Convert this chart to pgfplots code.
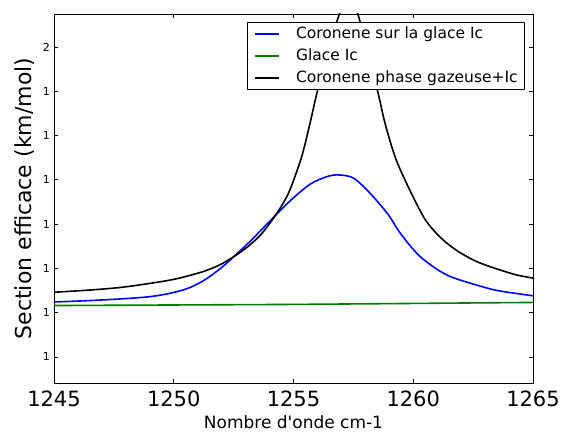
\documentclass[border=0pt]{standalone}
\usepackage{fontspec}
\setmainfont{DejaVu Sans}
\usepackage{pgfplots}
\pgfplotsset{compat=1.18}

\definecolor{mplgreen}{rgb}{0,0.5,0}

\begin{document}
\begin{tikzpicture}
\begin{axis}[
    name=ax,
    scale only axis,
    width=479pt, height=369pt,
    xmin=1245, xmax=1265,
    ymin=1.241, ymax=2.0745,
    xtick={1245,1250,...,1265},
    ytick={1.3,1.4,1.5,1.6,1.7,1.8,1.9,2.0},
    yticklabels={1,1,1,1,1,1,1,2},
    tick pos=both,
    tick align=inside,
    major tick length=4pt,
    tick style={black, line width=0.6pt},
    axis line style={line width=0.9pt},
    /pgf/number format/assume math mode=true,
    /pgf/number format/1000 sep={},
    xticklabel style={font=\fontsize{21}{24}\selectfont, inner sep=0pt, yshift=-8pt},
    yticklabel style={font=\fontsize{11}{13}\selectfont, inner sep=0pt, xshift=-4pt},
    xlabel={Nombre d\textquotesingle onde cm-1},
    ylabel={Section efficace (km/mol)},
    xlabel style={font=\fontsize{17}{20}\selectfont, at={(axis description cs:0.5,0)}, anchor=north, inner sep=0pt, yshift=-32pt},
    ylabel style={font=\fontsize{22}{25}\selectfont, at={(axis description cs:0,0.5)}, anchor=base, inner sep=0pt, yshift=23pt},
    legend style={at={(rel axis cs:1,1)}, anchor=north east, xshift=-8pt, yshift=-8.5pt,
        draw=black, line width=0.6pt, fill=white, font=\fontsize{15.5}{18}\selectfont,
        inner xsep=7pt, inner ysep=4pt, row sep=7pt, column sep=16pt,
        nodes={inner sep=0pt, text height=11.5pt, text depth=3.5pt}},
    legend cell align=left,
    legend image code/.code={\draw[#1, line width=1.6pt] (0pt,0pt) -- (24pt,0pt);},
    clip=true,
]
\addplot[blue, line width=1.6pt, smooth] coordinates {
    (1245,1.424) (1246.4,1.427) (1247.8,1.431) (1249.0,1.436) (1249.87,1.444)
    (1250.6,1.455) (1251.3,1.474) (1252.0,1.502) (1252.7,1.536) (1253.3,1.567)
    (1254.0,1.606) (1254.85,1.652) (1255.69,1.690) (1256.39,1.707) (1256.87,1.711)
    (1257.5,1.704) (1258.19,1.670) (1258.96,1.621) (1259.45,1.580) (1260.28,1.527)
    (1261.4,1.485) (1262.79,1.460) (1263.6,1.449) (1265,1.438)
};
\addlegendentry{Coronene sur la glace Ic}
\addplot[mplgreen, line width=1.6pt] coordinates {
    (1245,1.416) (1255,1.4185) (1265,1.423)
};
\addlegendentry{Glace Ic}
\addplot[black, line width=1.6pt, smooth] coordinates {
    (1245,1.446) (1246.5,1.451) (1247.8,1.457) (1249.0,1.466) (1249.9,1.474)
    (1250.6,1.483) (1251.3,1.494) (1252.0,1.510) (1252.8,1.537) (1253.35,1.561)
    (1253.7,1.580) (1254.16,1.613) (1254.5,1.641) (1254.85,1.677) (1255.34,1.752)
    (1255.69,1.828) (1255.97,1.894) (1256.4,1.985) (1256.9,2.072) (1257.1,2.093)
    (1257.3,2.098) (1257.5,2.093) (1257.7,2.072) (1258.1,1.990) (1258.54,1.894)
    (1258.82,1.828) (1259.24,1.752) (1259.72,1.692) (1260.42,1.617) (1260.9,1.583)
    (1261.4,1.557) (1262.0,1.534) (1262.79,1.512) (1264.18,1.487) (1265,1.478)
};
\addlegendentry{Coronene phase gazeuse+Ic}
\end{axis}
\path (ax.south west) ++(-54pt,-49pt);
\path (ax.north east) ++(28pt,14pt);
\end{tikzpicture}
\end{document}
